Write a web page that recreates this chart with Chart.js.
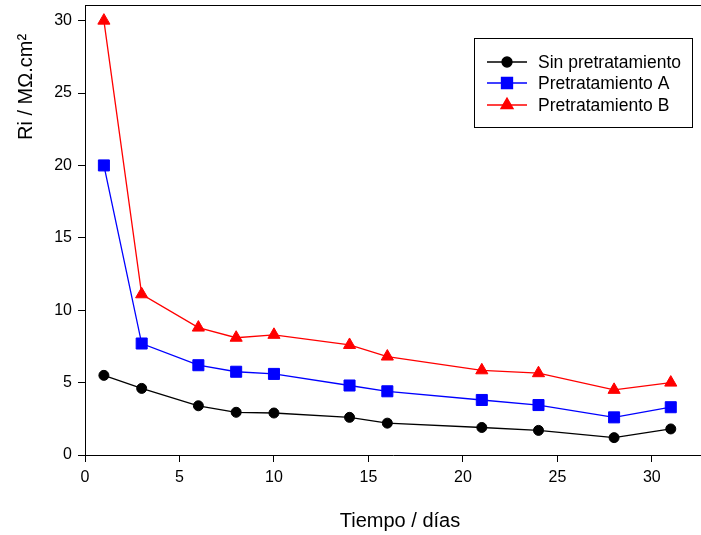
<!DOCTYPE html>
<html>
<head>
<meta charset="utf-8">
<script src="https://cdn.jsdelivr.net/npm/chart.js"></script>
<style>
  html, body { margin: 0; padding: 0; background: #fff; overflow: hidden; }
  #wrap { width: 701px; height: 535px; position: relative; }
</style>
</head>
<body>
<div id="wrap"><canvas id="grafico"></canvas></div>
<script>
// dias de medida
const dias = [1, 3, 6, 8, 10, 14, 16, 21, 24, 28, 31];
// Ri en MOhm.cm2
const sinPretratamiento = [5.5, 4.6, 3.4, 2.95, 2.9, 2.6, 2.2, 1.9, 1.7, 1.2, 1.8];
const pretratamientoA = [20, 7.7, 6.2, 5.75, 5.6, 4.8, 4.4, 3.8, 3.45, 2.6, 3.3];
const pretratamientoB = [30, 11.1, 8.8, 8.1, 8.3, 7.6, 6.8, 5.85, 5.65, 4.5, 5.0];
const nombres = ['Sin pretratamiento', 'Pretratamiento A', 'Pretratamiento B'];
const ticksX = [0, 5, 10, 15, 20, 25, 30];
const ticksY = [0, 5, 10, 15, 20, 25, 30];

const fuente = '"Liberation Sans", Arial, sans-serif';

function puntos(vals) {
    return dias.map((d, i) => ({ x: d, y: vals[i] }));
}

function serie(label, vals, color, estilo, radio) {
    return {
        label: label,
        data: puntos(vals),
        borderColor: color,
        backgroundColor: color,
        borderWidth: 1.3,
        pointStyle: estilo,
        pointRadius: radio,
        pointHoverRadius: radio,
        pointBorderWidth: 1,
        tension: 0
    };
}

function sinRelleno(s) {
    s.paddingTop = 0;
    s.paddingBottom = 0;
    s.paddingLeft = 0;
    s.paddingRight = 0;
}

// titulos, borde superior y leyenda dibujados a mano
const extras = {
    id: 'extras',
    afterDraw(chart) {
        const ctx = chart.ctx;
        const area = chart.chartArea;
        ctx.save();
        ctx.strokeStyle = '#000';
        ctx.lineWidth = 1;
        ctx.beginPath();
        ctx.moveTo(area.left, area.top + 0.5);
        ctx.lineTo(area.right, area.top + 0.5);
        ctx.stroke();

        ctx.fillStyle = '#000';
        ctx.font = '20px ' + fuente;
        ctx.textAlign = 'center';
        ctx.textBaseline = 'alphabetic';
        ctx.fillText('Tiempo / días', 400, 527);

        ctx.save();
        ctx.translate(32, 140);
        ctx.rotate(-Math.PI / 2);
        ctx.textAlign = 'left';
        ctx.fillText('Ri / MΩ.cm²', 0, 0);
        ctx.restore();

        // leyenda
        ctx.lineWidth = 1;
        ctx.strokeRect(474.5, 38.5, 218, 89);
        ctx.font = '17.5px ' + fuente;
        ctx.textAlign = 'left';
        ctx.textBaseline = 'middle';
        const ys = [62, 83, 105];
        chart.data.datasets.forEach((ds, i) => {
            const y = ys[i];
            ctx.strokeStyle = ds.borderColor;
            ctx.fillStyle = ds.backgroundColor;
            ctx.lineWidth = 1.3;
            ctx.beginPath();
            ctx.moveTo(487, y);
            ctx.lineTo(527, y);
            ctx.stroke();
            Chart.helpers.drawPoint(ctx, {
                pointStyle: ds.pointStyle,
                radius: ds.pointRadius,
                rotation: 0,
                borderWidth: 1
            }, 507, y);
            ctx.fillStyle = '#000';
            ctx.fillText(ds.label, 538, y + 1);
        });
        ctx.restore();
    }
};

new Chart(document.getElementById('grafico'), {
    type: 'line',
    data: {
        datasets: [
            serie(nombres[0], sinPretratamiento, '#000000', 'circle', 5),
            serie(nombres[1], pretratamientoA, '#0000ff', 'rect', 7.8),
            serie(nombres[2], pretratamientoB, '#ff0000', 'triangle', 7)
        ]
    },
    options: {
        responsive: true,
        maintainAspectRatio: false,
        animation: false,
        layout: { autoPadding: false, padding: { top: 5, right: 0, left: 0, bottom: 0 } },
        plugins: {
            legend: { display: false },
            tooltip: { enabled: false }
        },
        scales: {
            x: {
                type: 'linear',
                min: 0,
                max: 32.6,
                afterBuildTicks: (s) => { s.ticks = ticksX.map(v => ({ value: v })); },
                afterFit: (s) => { s.height = 80; sinRelleno(s); },
                grid: { drawOnChartArea: false, tickLength: 7, tickColor: '#000', tickWidth: 1 },
                border: { display: true, color: '#000', width: 1 },
                ticks: { color: '#000', font: { family: fuente, size: 16 }, padding: 6, maxRotation: 0 }
            },
            y: {
                min: 0,
                max: 31.08,
                afterBuildTicks: (s) => { s.ticks = ticksY.map(v => ({ value: v })); },
                afterFit: (s) => { s.width = 85; sinRelleno(s); },
                grid: { drawOnChartArea: false, tickLength: 7, tickColor: '#000', tickWidth: 1 },
                border: { display: true, color: '#000', width: 1 },
                ticks: { color: '#000', font: { family: fuente, size: 16 }, padding: 6 }
            }
        }
    },
    plugins: [extras]
});
</script>
</body>
</html>
